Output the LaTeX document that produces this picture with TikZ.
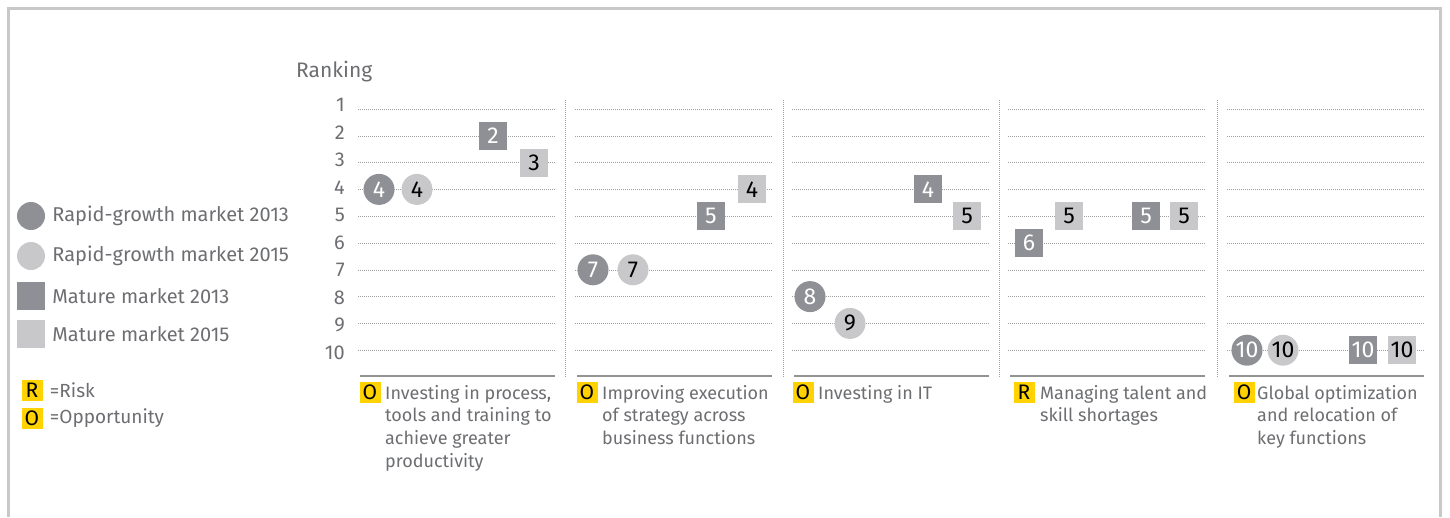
\documentclass[tikz,border=0pt]{standalone}
\usepackage{fontspec}
\setmainfont{Fira Sans}
\usetikzlibrary{positioning}

\definecolor{dkgray}{HTML}{8F9095}
\definecolor{ltgray}{HTML}{C8C8CA}
\definecolor{txtgray}{HTML}{6D6E71}
\definecolor{eyyellow}{HTML}{FFD200}
\definecolor{framegray}{HTML}{C8C8C8}

\begin{document}
\begin{tikzpicture}[
        x=1pt, y=-1pt,
        every node/.style={font=\fontsize{18}{22.7}\selectfont, text=txtgray},
        marker/.style={inner sep=0pt, font=\fontsize{23}{23}\selectfont},
        rg13/.style={marker, circle, fill=dkgray, minimum size=31pt, text=white},
        rg15/.style={marker, circle, fill=ltgray, minimum size=31pt, text=black},
        mm13/.style={marker, rectangle, fill=dkgray, minimum size=28pt, text=white},
        mm15/.style={marker, rectangle, fill=ltgray, minimum size=28pt, text=black},
        tag/.style={fill=eyyellow, minimum size=21pt, inner sep=0pt, text=black,
            font=\fontsize{21}{21}\selectfont},
        legend text/.style={inner sep=0pt, anchor=west, font=\fontsize{20}{20}\selectfont},
        topic/.style={inner sep=0pt, anchor=north west, align=left},
        grid line/.style={gray!75, line width=0.6pt, dash pattern=on 1pt off 1pt},
        sep line/.style={gray!75, line width=0.8pt, dash pattern=on 1pt off 1pt},
        foot line/.style={gray!85, line width=1.5pt},
        frame/.style={framegray, line width=3pt},
    ]

    \useasboundingbox (0,0) rectangle (1450,517);

    % outer frame, open at the bottom
    \draw[frame] (8,517) -- (8,8) -- (1440,8) -- (1440,517);

    % ranking axis
    \node[anchor=west, inner sep=0pt, font=\fontsize{21}{21}\selectfont] (ranking) at (296,72) {Ranking};
    \foreach \r in {1,...,10}
        \node[anchor=east, inner sep=0pt, font=\fontsize{20}{20}\selectfont]
            (rank\r) at (345,{105+27.55*(\r-1)}) {\r};

    % grid of the five columns
    \foreach \xs in {358,575,792,1008,1227} {
        \foreach \r in {1,...,10}
            \draw[grid line] (\xs,{109+26.8*(\r-1)}) -- ++(198,0);
        \draw[foot line] (\xs+2,376) -- ++(195,0);
    }
    \foreach \xs in {565,783,999,1217}
        \draw[sep line] (\xs,100) -- (\xs,377);

    % legend
    \node[rg13, minimum size=28pt] (leg1) at (31,216) {};
    \node[legend text, right=7pt of leg1] {Rapid-growth market 2013};
    \node[rg15, minimum size=28pt] (leg2) at (31,256) {};
    \node[legend text, right=7pt of leg2] {Rapid-growth market 2015};
    \node[mm13] (leg3) at (31,296) {};
    \node[legend text, right=7pt of leg3] {Mature market 2013};
    \node[mm15] (leg4) at (31,334) {};
    \node[legend text, right=7pt of leg4] {Mature market 2015};

    \node[tag] (tagR) at (32,390) {R};
    \node[legend text, right=7pt of tagR, font=\fontsize{19}{19}\selectfont] {=Risk};
    \node[tag] (tagO) at (32,418) {O};
    \node[legend text, right=7pt of tagO, font=\fontsize{19}{19}\selectfont] {=Opportunity};

    % process, tools and training
    \node[mm13] (pr13m) at (493,135.8) {2};
    \node[mm15] (pr15m) at (534,162.6) {3};
    \node[rg13] (pr13r) at (379,189.4) {4};
    \node[rg15] (pr15r) at (417,189.4) {4};

    % execution of strategy
    \node[mm15] (ex15m) at (752,189.4) {4};
    \node[mm13] (ex13m) at (711,216.2) {5};
    \node[rg13] (ex13r) at (593,269.8) {7};
    \node[rg15] (ex15r) at (633,269.8) {7};

    % IT
    \node[mm13] (it13m) at (928,189.4) {4};
    \node[mm15] (it15m) at (967,216.2) {5};
    \node[rg13] (it13r) at (810,296.6) {8};
    \node[rg15] (it15r) at (850,323.4) {9};

    % talent and skills
    \node[mm15] (ta15r) at (1069,216.2) {5};
    \node[mm13] (ta13m) at (1146,216.2) {5};
    \node[mm15] (ta15m) at (1184,216.2) {5};
    \node[mm13] (ta13r) at (1029,243) {6};

    % global optimization
    \node[rg13] (go13r) at (1247,350.2) {10};
    \node[rg15] (go15r) at (1283,350.2) {10};
    \node[mm13] (go13m) at (1363,350.2) {10};
    \node[mm15] (go15m) at (1402,350.2) {10};

    % column captions
    \node[tag] (capA) at (370,392) {O};
    \node[topic] at (385,385) {Investing in process,\\tools and training to\\achieve greater\\productivity};
    \node[tag] (capB) at (587,392) {O};
    \node[topic] at (602,385) {Improving execution\\of strategy across\\business functions};
    \node[tag] (capC) at (803,392) {O};
    \node[topic] at (818,385) {Investing in IT};
    \node[tag] (capD) at (1024,392) {R};
    \node[topic] at (1040,385) {Managing talent and\\skill shortages};
    \node[tag] (capE) at (1244,392) {O};
    \node[topic] at (1257,385) {Global optimization\\and relocation of\\key functions};

\end{tikzpicture}
\end{document}
